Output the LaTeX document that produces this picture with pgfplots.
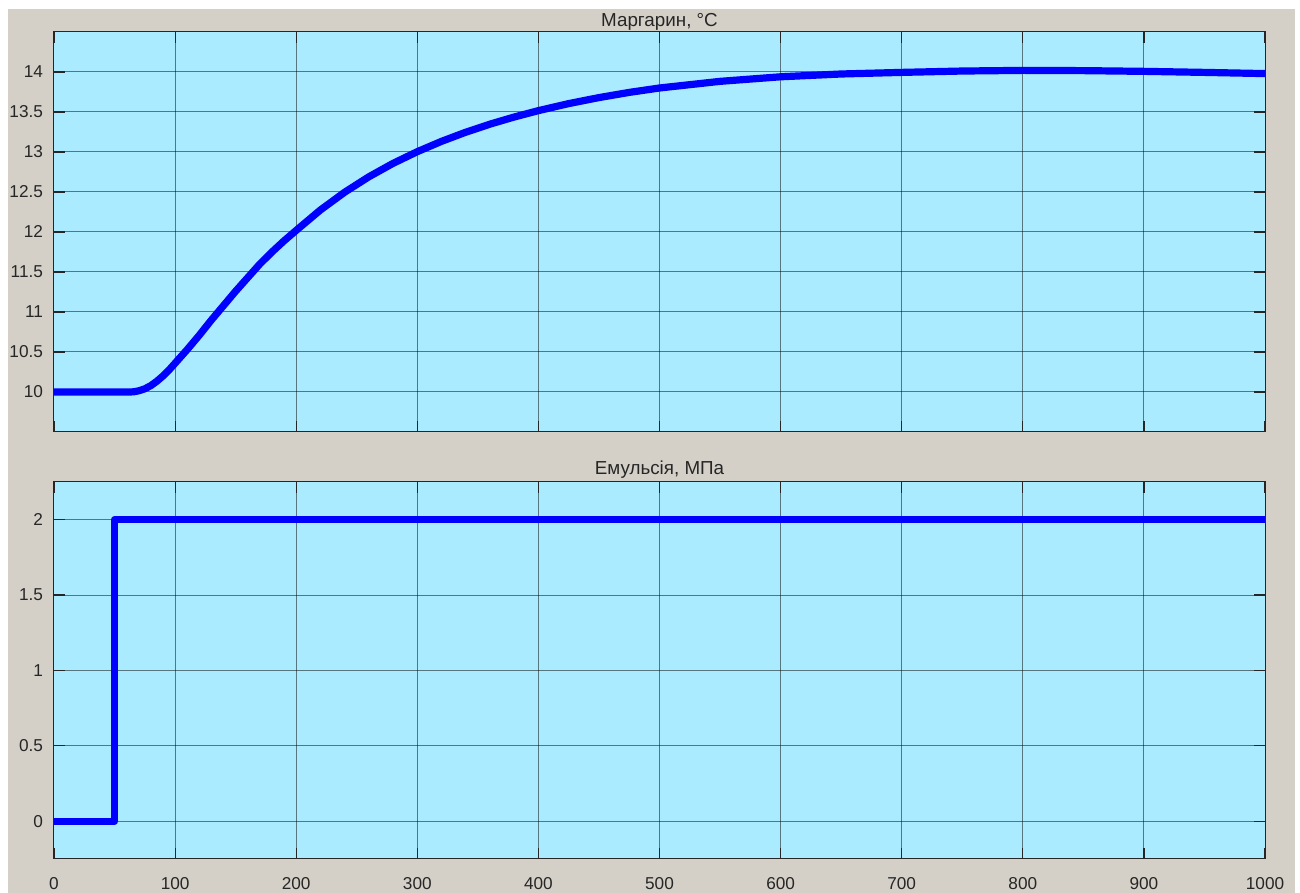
\documentclass[border=0pt]{standalone}
\usepackage{fontspec}
\setmainfont{Liberation Sans}
\usepackage{pgfplots}
\pgfplotsset{compat=1.18}

\definecolor{panelgrey}{RGB}{212,208,200}
\definecolor{plotbg}{RGB}{171,235,255}
\definecolor{inkgrey}{RGB}{38,38,38}

\pgfplotsset{
  scopeaxis/.style={
    scale only axis,
    width=605.5pt,
    anchor=south west,
    xmin=0, xmax=1000,
    xtick={0,100,...,1000},
    axis background/.style={fill=plotbg},
    axis line style={inkgrey, line width=0.5pt},
    grid=major,
    major grid style={black, opacity=0.5, line width=0.5pt},
    tick align=inside,
    tick pos=both,
    major tick length=5.5pt,
    tick style={inkgrey, line width=0.6pt},
    ticklabel style={font=\fontsize{8.6}{10}\selectfont, text=inkgrey},
    /pgf/number format/assume math mode=true,
    /pgf/number format/set thousands separator={},
    yticklabel shift=2pt,
    xticklabel shift=5.6pt,
    no markers,
    every axis plot/.append style={blue, line width=3.6pt, line join=round},
  },
}

\begin{document}
\begin{tikzpicture}
\useasboundingbox (0,0) rectangle (650pt,446.5pt);
\fill[white] (0,0) rectangle (650pt,446.5pt);
\fill[panelgrey] (4pt,0) rectangle (647.5pt,442pt);

% upper panel: margarine temperature
\begin{axis}[scopeaxis,
  at={(27pt,230.5pt)}, height=200pt,
  ymin=9.5, ymax=14.5,
  ytick={10,10.5,...,14},
  xticklabels={},
  title={Маргарин, °C},
  every axis title/.style={at={(0.5,1)}, anchor=base, yshift=2.8pt,
    font=\fontsize{9.4}{11}\selectfont, text=inkgrey},
]
\addplot coordinates {
 (0,10) (63,10) (66,10.003) (70,10.015) (75,10.04) (80,10.08) (85,10.135)
 (90,10.2) (95,10.275) (100,10.36) (110,10.53) (120,10.71) (130,10.9)
 (140,11.08) (150,11.26) (160,11.43) (170,11.6) (180,11.75) (190,11.89)
 (200,12.02) (220,12.275) (240,12.497) (260,12.69) (280,12.858)
 (300,13.004) (320,13.133) (340,13.247) (360,13.348) (380,13.437)
 (400,13.517) (425,13.605) (450,13.68) (475,13.745) (500,13.8)
 (550,13.883) (600,13.94) (650,13.975) (700,13.995) (750,14.012)
 (800,14.02) (850,14.017) (900,14.008) (950,13.995) (1000,13.98)
};
\end{axis}

% lower panel: emulsion pressure
\begin{axis}[scopeaxis,
  at={(27pt,17pt)}, height=188.5pt,
  ymin=-0.25, ymax=2.25,
  ytick={0,0.5,...,2},
  title={Емульсія, МПа},
  every axis title/.style={at={(0.5,1)}, anchor=base, yshift=3.7pt,
    font=\fontsize{9.4}{11}\selectfont, text=inkgrey},
]
\addplot coordinates {(0,0) (50,0) (50,2) (1000,2)};
\end{axis}
\end{tikzpicture}
\end{document}
